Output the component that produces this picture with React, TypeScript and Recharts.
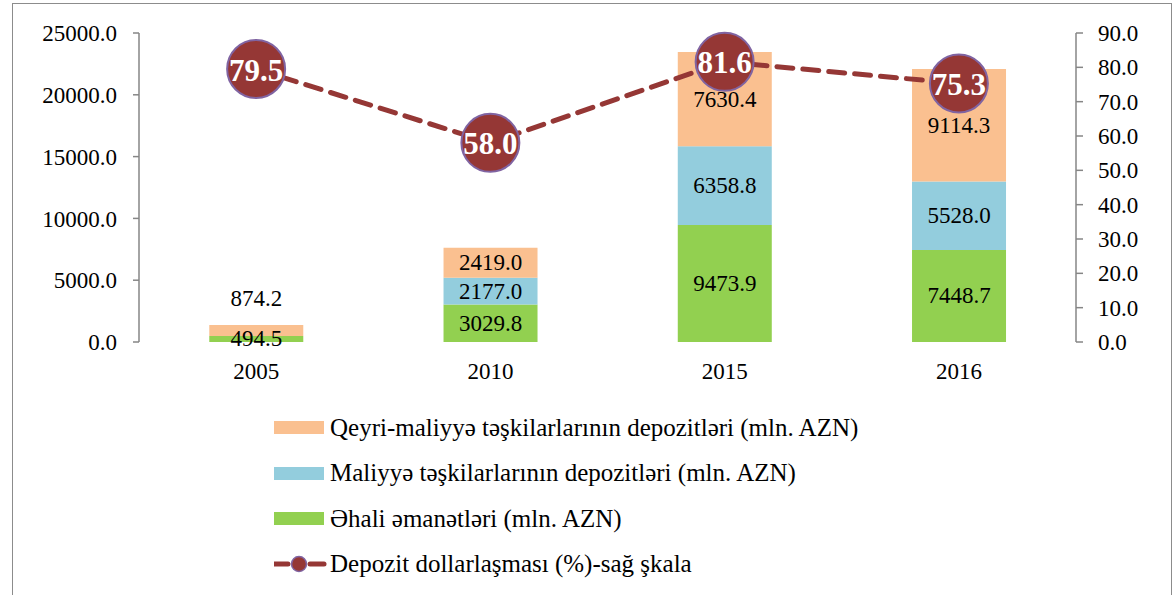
import {
  ComposedChart,
  Bar,
  Line,
  XAxis,
  YAxis,
  LabelList,
} from 'recharts'

const years = ['2005', '2010', '2015', '2016']
const ehali = [494.5, 3029.8, 9473.9, 7448.7]
const maliyye = [null, 2177.0, 6358.8, 5528.0]
const qeyriMaliyye = [874.2, 2419.0, 7630.4, 9114.3]
const dollarlasma = [79.5, 58.0, 81.6, 75.3]
const leftTicks = [0, 5000, 10000, 15000, 20000, 25000]
const rightTicks = [0, 10, 20, 30, 40, 50, 60, 70, 80, 90]

const data = years.map((year, i) => ({
  year,
  ehali: ehali[i],
  maliyye: maliyye[i],
  qeyri: qeyriMaliyye[i],
  dollar: dollarlasma[i],
}))

const ORANGE = '#FAC090'
const BLUE = '#93CDDD'
const GREEN = '#92D050'
const RED = '#953735'
const PURPLE = '#8064A2'
const AXIS = '#868686'
const FONT = 'Times New Roman'
// regular serif text turns sans at 24px and up in this browser, so stay just under
const TEXT_SIZE = 23

const legendItems = [
  { label: 'Qeyri-maliyyə təşkilarlarının depozitləri (mln. AZN)', color: ORANGE, type: 'bar' },
  { label: 'Maliyyə təşkilarlarının depozitləri (mln. AZN)', color: BLUE, type: 'bar' },
  { label: 'Əhali əmanətləri (mln. AZN)', color: GREEN, type: 'bar' },
  { label: 'Depozit dollarlaşması (%)-sağ şkala', color: RED, type: 'line' },
]

function SegmentLabel(props: any) {
  const { x, y, width, height, value } = props
  if (value == null || value === 0) return null
  // short segments get their label above the bar, as in the original
  const small = height < 14 && props.above
  const cy = small ? y - 27 : y + height / 2
  return (
    <text
      x={x + width / 2}
      y={cy}
      textAnchor="middle"
      dominantBaseline="central"
      style={{ fontSize: TEXT_SIZE, fontFamily: FONT }}
      fill="#000"
    >
      {Number(value).toFixed(1)}
    </text>
  )
}

function DotLabel(props: any) {
  const { x, y, value } = props
  return (
    <text
      x={x}
      y={y + 1}
      textAnchor="middle"
      dominantBaseline="central"
      style={{ fontSize: 31, fontWeight: 'bold', fontFamily: FONT }}
      fill="#fff"
    >
      {Number(value).toFixed(1)}
    </text>
  )
}

function LegendBox() {
  return (
    <div
      style={{
        position: 'absolute',
        left: 274,
        top: 405,
        fontFamily: FONT,
        fontSize: TEXT_SIZE,
        color: '#000',
      }}
    >
      {legendItems.map(item => (
        <div key={item.label} style={{ display: 'flex', alignItems: 'center', height: 45.5 }}>
          {item.type === 'bar' ? (
            <span style={{ display: 'inline-block', width: 50, height: 13, background: item.color, marginRight: 6 }} />
          ) : (
            <svg width={56} height={20}>
              <line x1={0} y1={10} x2={14} y2={10} stroke={RED} strokeWidth={5} strokeLinecap="round" />
              <line x1={36} y1={10} x2={50} y2={10} stroke={RED} strokeWidth={5} strokeLinecap="round" />
              <circle cx={25} cy={10} r={7.5} fill={RED} stroke={PURPLE} strokeWidth={1.5} />
            </svg>
          )}
          <span
            style={{
              whiteSpace: 'nowrap',
              display: 'inline-block',
              transform: 'scale(1.087)',
              transformOrigin: 'left center',
            }}
          >
            {item.label}
          </span>
        </div>
      ))}
    </div>
  )
}

const tickStyle = { fontSize: TEXT_SIZE, fontFamily: FONT, fill: '#000' }

export default function App() {
  return (
    <div style={{ position: 'absolute', left: 0, top: 0, width: 1175, height: 595, background: '#fff' }}>
      <div
        style={{
          position: 'absolute',
          left: 12,
          top: 3,
          width: 1160,
          height: 600,
          border: '1.5px solid #8c8c8c',
          boxSizing: 'border-box',
        }}
      />
      <LegendBox />
      <ComposedChart
        width={1175}
        height={595}
        data={data}
        margin={{ top: 33, right: 0, bottom: 213, left: 0 }}
        barCategoryGap="30%"
        style={{ position: 'absolute', left: 0, top: 0 }}
      >
        <XAxis
          xAxisId="frame"
          type="number"
          domain={[0, 4]}
          ticks={[0, 1, 2, 3, 4]}
          height={0}
          stroke={AXIS}
          strokeWidth={1.5}
          tickSize={8}
          tick={() => <g />}
        />
        <XAxis
          dataKey="year"
          height={40}
          axisLine={false}
          tickLine={false}
          tickMargin={15}
          tick={tickStyle}
        />
        <YAxis
          yAxisId="left"
          width={139}
          domain={[0, 25000]}
          ticks={leftTicks}
          tickFormatter={v => v.toFixed(1)}
          stroke={AXIS}
          strokeWidth={1.5}
          tickSize={6}
          tickMargin={16}
          tick={tickStyle}
        />
        <YAxis
          yAxisId="right"
          orientation="right"
          width={99}
          domain={[0, 90]}
          ticks={rightTicks}
          tickFormatter={v => v.toFixed(1)}
          stroke={AXIS}
          strokeWidth={1.5}
          tickSize={7}
          tickMargin={15}
          tick={tickStyle}
        />
        <Bar dataKey="ehali" stackId="a" yAxisId="left" fill={GREEN} isAnimationActive={false}>
          <LabelList dataKey="ehali" content={(p: any) => <SegmentLabel {...p} />} />
        </Bar>
        <Bar dataKey="maliyye" stackId="a" yAxisId="left" fill={BLUE} isAnimationActive={false}>
          <LabelList dataKey="maliyye" content={(p: any) => <SegmentLabel {...p} />} />
        </Bar>
        <Bar dataKey="qeyri" stackId="a" yAxisId="left" fill={ORANGE} isAnimationActive={false}>
          <LabelList dataKey="qeyri" content={(p: any) => <SegmentLabel {...p} above />} />
        </Bar>
        <Line
          dataKey="dollar"
          yAxisId="right"
          stroke={RED}
          strokeWidth={5}
          strokeDasharray="16 10"
          strokeLinecap="round"
          dot={{ r: 29, fill: RED, stroke: PURPLE, strokeWidth: 2, strokeDasharray: '' }}
          activeDot={false}
          isAnimationActive={false}
        >
          <LabelList dataKey="dollar" content={(p: any) => <DotLabel {...p} />} />
        </Line>
      </ComposedChart>
    </div>
  )
}
